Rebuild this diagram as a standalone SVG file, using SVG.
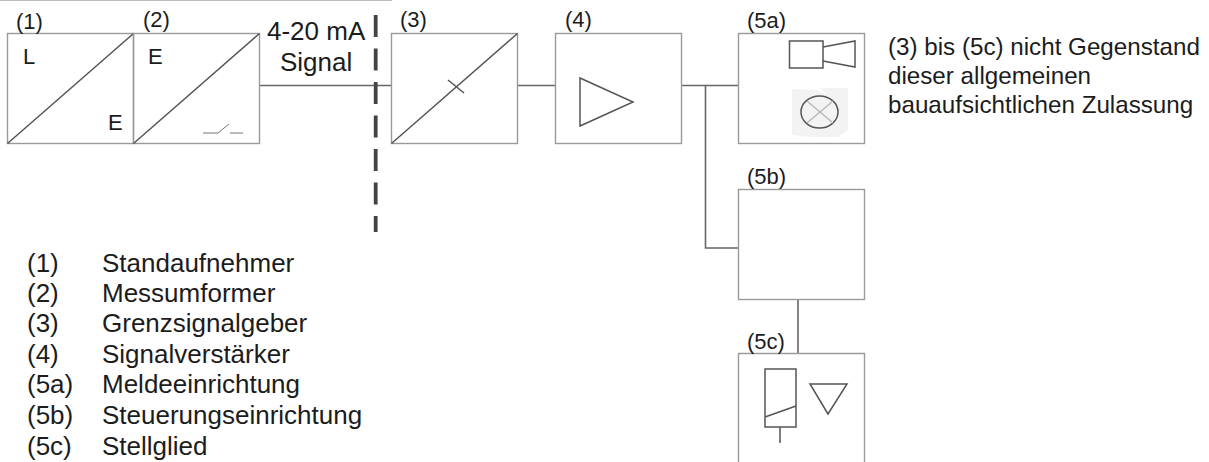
<svg xmlns="http://www.w3.org/2000/svg" width="1209" height="462" viewBox="0 0 1209 462">
<style>
text{font-family:"Liberation Sans",Arial,sans-serif;fill:#1c1c1c}
.t{font-size:26px}.s{font-size:22px}.n{font-size:24.200px}
.b{fill:none;stroke:#9a9a9a;stroke-width:1.4}
.d{fill:none;stroke:#555;stroke-width:1.5}
.c{fill:none;stroke:#666;stroke-width:1.6}
</style>
<rect width="1209" height="462" fill="#fff"/>
<line x1="0" y1="0.500" x2="392" y2="0.500" stroke="#bbb" stroke-width="1"/>
<g id="connectors">
<path class="c" d="M259.500 85.500H391.500M517.500 85.500H555.500M681.500 85.500H738.500M705.500 85.500V248H738.500M798 300V354"/>
<line x1="375.700" y1="15" x2="375.700" y2="232" stroke="#444" stroke-width="3.800" stroke-dasharray="22,11.500"/>
</g>
<g id="n1"><rect class="b" x="7.500" y="33.500" width="126" height="110"/><line class="d" x1="7.500" y1="143.500" x2="133.500" y2="33.500"/>
<text class="s" x="23" y="64">L</text><text class="s" x="108" y="130">E</text><text class="s" x="16" y="29">(1)</text></g>
<g id="n2"><rect class="b" x="133.500" y="33.500" width="126" height="110"/><line class="d" x1="133.500" y1="143.500" x2="259.500" y2="33.500"/>
<path fill="none" stroke="#777" stroke-width="1" d="M203 133H218L229 124M230 133H243"/>
<text class="s" x="148" y="64">E</text><text class="s" x="143" y="27">(2)</text></g>
<g id="signal"><text class="t" x="267" y="40">4-20 mA</text><text class="t" x="280" y="71">Signal</text></g>
<g id="n3"><rect class="b" x="391.500" y="33.500" width="126" height="110"/><line class="d" x1="391.500" y1="143.500" x2="517.500" y2="33.500"/><line class="d" x1="448" y1="80" x2="464" y2="93"/>
<text class="s" x="400" y="27">(3)</text></g>
<g id="n4"><rect class="b" x="555.500" y="33.500" width="126" height="110"/><path class="d" d="M580 78V126L633 102Z"/>
<text class="s" x="565" y="27">(4)</text></g>
<g id="n5a"><rect class="b" x="738.500" y="33.500" width="126" height="110"/>
<path d="M792 89L817 90L826 95L820 88H848V130L838 137H812L792 135Z" fill="#f3f3f3"/>
<rect class="d" x="789.500" y="41" width="33.500" height="27"/><path class="d" d="M823 47L855 41V67L823 61"/>
<ellipse class="d" cx="819.500" cy="112" rx="18.500" ry="16"/><path fill="none" stroke="#b5b5b5" stroke-width="1.200" d="M807 101L833 123M833 101L807 123"/>
<text class="s" x="747" y="28">(5a)</text></g>
<g id="n5b"><rect class="b" x="738.500" y="189.500" width="126" height="110"/><text class="s" x="747" y="184">(5b)</text></g>
<g id="n5c"><path class="b" d="M738.500 462V353.500H864.500V462"/>
<rect class="d" x="765" y="369" width="31" height="58"/><path class="d" d="M765 417L796 406M780 427V443"/><path class="d" d="M810 384H847L828 414Z"/>
<text class="s" x="747" y="349">(5c)</text></g>
<g id="note"><text class="n" x="888" y="55">(3) bis (5c) nicht Gegenstand</text><text class="n" x="888" y="84">dieser allgemeinen</text><text class="n" x="888" y="113">bauaufsichtlichen Zulassung</text></g>
<g id="legend">
<text class="t" x="27" y="272">(1)</text><text class="t" x="102" y="272">Standaufnehmer</text>
<text class="t" x="27" y="302">(2)</text><text class="t" x="102" y="302">Messumformer</text>
<text class="t" x="27" y="332">(3)</text><text class="t" x="102" y="332">Grenzsignalgeber</text>
<text class="t" x="27" y="363">(4)</text><text class="t" x="102" y="363">Signalverstärker</text>
<text class="t" x="27" y="393">(5a)</text><text class="t" x="102" y="393">Meldeeinrichtung</text>
<text class="t" x="27" y="424">(5b)</text><text class="t" x="102" y="424">Steuerungseinrichtung</text>
<text class="t" x="27" y="455">(5c)</text><text class="t" x="102" y="455">Stellglied</text>
</g>
</svg>
